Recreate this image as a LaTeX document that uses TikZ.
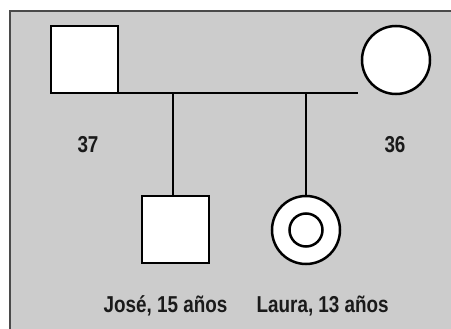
\documentclass[tikz,border=0pt]{standalone}
\usepackage{fontspec}
\newfontfamily\lblfont{Liberation Sans}[FakeStretch=0.82]
\definecolor{bggray}{HTML}{CCCCCC}
\definecolor{framegray}{HTML}{4A4A4A}
\definecolor{inkgray}{HTML}{1A1A1A}
\begin{document}
\begin{tikzpicture}[x=1pt,y=-1pt,
  person/.style={draw=black, line width=2.5pt, fill=white, inner sep=0pt, outer sep=0pt},
  male/.style={person, rectangle, minimum size=67pt},
  female/.style={person, circle, minimum size=68pt},
  link/.style={line width=2.5pt},
  lbl/.style={font=\lblfont\bfseries\fontsize{23}{26}\selectfont, text=inkgray, anchor=base, inner sep=0pt}]
\useasboundingbox (0,0) rectangle (451,329);
\fill[bggray] (9,10) rectangle (452,330);
\draw[framegray, line width=2pt] (10,330) -- (10,11) -- (452,11);
% parents
\node[male] (father) at (84.5,59.5) {};
\node[female] (mother) at (396,60) {};
\coordinate (mend) at (358,93);
\draw[link] (father.south west) -- (mend);
% children
\node[male] (son) at (175.5,229.5) {};
\node[female] (daughter) at (306,230) {};
\node[person, circle, minimum size=33pt] (dinner) at (daughter.center) {};
\coordinate (sontop) at (173,93);
\coordinate (daughtertop) at (306,93);
\draw[link] (sontop) -- (sontop |- son.north);
\draw[link] (daughtertop) -- (daughter.north);
% labels
\node[lbl] (age37) at (88,153) {37};
\node[lbl] (age36) at (395,153) {36};
\node[lbl] (jose) at (165.5,313) {José, 15 años};
\node[lbl] (laura) at (322.7,313) {Laura, 13 años};
\end{tikzpicture}
\end{document}
